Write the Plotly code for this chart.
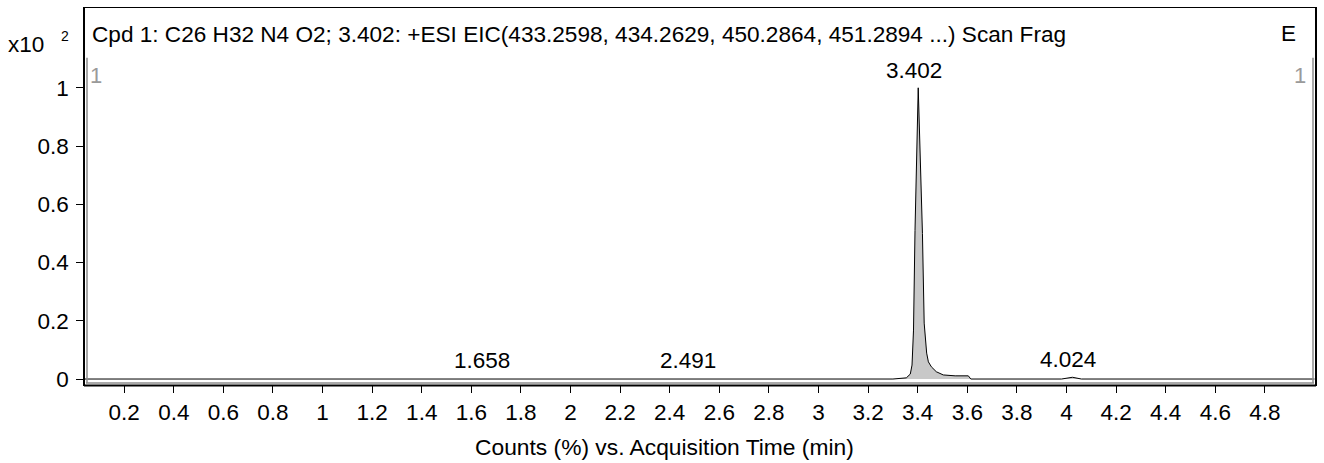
import plotly.graph_objects as go

# Extracted ion chromatogram (EIC), counts in units of 10^2 (%)
acq_time = [0.04, 1.60, 1.658, 1.72, 2.44, 2.491, 2.54, 3.30, 3.354, 3.370, 3.377,
            3.383, 3.389, 3.402, 3.419, 3.426, 3.436, 3.443, 3.455, 3.475, 3.503,
            3.544, 3.551, 3.604, 3.614, 3.98, 4.024, 4.06, 5.00]
counts = [0.0, 0.0, 0.002, 0.0, 0.0, 0.002, 0.0, 0.0, 0.004, 0.017, 0.048,
          0.168, 0.51, 1.0, 0.50, 0.192, 0.089, 0.059, 0.042, 0.025, 0.014,
          0.010, 0.011, 0.011, 0.0, 0.0, 0.006, 0.0, 0.0]

# Labelled peak apexes
peak_rt = [1.658, 2.491, 3.402, 4.024]
peak_height = [0.002, 0.002, 1.0, 0.006]

x_ticks = [0.2, 0.4, 0.6, 0.8, 1, 1.2, 1.4, 1.6, 1.8, 2, 2.2, 2.4, 2.6, 2.8, 3,
           3.2, 3.4, 3.6, 3.8, 4, 4.2, 4.4, 4.6, 4.8]
y_ticks = [0, 0.2, 0.4, 0.6, 0.8, 1]

title_text = ("Cpd 1: C26 H32 N4 O2; 3.402: +ESI EIC(433.2598, 434.2629, "
              "450.2864, 451.2894 ...) Scan Frag")
axis_title = "Counts (%) vs. Acquisition Time (min)"

W, H = 1324, 463
ML, MR, MT, MB = 85, 7, 7, 78
PW, PH = W - ML - MR, H - MT - MB
FONT = "Liberation Sans, Arial, sans-serif"
FS = 22.5


def px_x(px):
    """Horizontal pixel -> paper coordinate."""
    return (px - ML) / PW


def px_y(py):
    """Vertical pixel (from top) -> paper coordinate."""
    return (H - MB - py) / PH


fig = go.Figure()
fig.add_trace(go.Scatter(
    x=acq_time, y=counts, mode="lines",
    line=dict(color="black", width=1),
    fill="tozeroy", fillcolor="#c8c8c8",
    hoverinfo="skip", showlegend=False,
))

annotations = []
for rt, h in zip(peak_rt, peak_height):
    annotations.append(dict(
        x=rt, y=h, xref="x", yref="y", text=f"{rt:.3f}", showarrow=False,
        xanchor="center", yanchor="bottom", xshift=-4, yshift=3,
        font=dict(family=FONT, size=FS, color="black"),
    ))

annotations += [
    dict(x=px_x(90), y=px_y(34), xref="paper", yref="paper", text=title_text,
         showarrow=False, xanchor="left", yanchor="middle",
         font=dict(family=FONT, size=22.6, color="black")),
    dict(x=px_x(1290), y=px_y(33), xref="paper", yref="paper", text="E",
         showarrow=False, xanchor="center", yanchor="middle",
         font=dict(family=FONT, size=FS, color="black")),
    dict(x=px_x(96), y=px_y(75), xref="paper", yref="paper", text="1",
         showarrow=False, xanchor="center", yanchor="middle",
         font=dict(family=FONT, size=22, color="#9a9a9a")),
    dict(x=px_x(1302), y=px_y(75), xref="paper", yref="paper", text="1",
         showarrow=False, xanchor="center", yanchor="middle",
         font=dict(family=FONT, size=22, color="#9a9a9a")),
    dict(x=px_x(25.5), y=px_y(44), xref="paper", yref="paper", text="x10",
         showarrow=False, xanchor="center", yanchor="middle",
         font=dict(family=FONT, size=FS, color="black")),
    dict(x=px_x(64.5), y=px_y(35), xref="paper", yref="paper", text="2",
         showarrow=False, xanchor="center", yanchor="middle",
         font=dict(family=FONT, size=14, color="black")),
    dict(x=px_x(665), y=px_y(447), xref="paper", yref="paper", text=axis_title,
         showarrow=False, xanchor="center", yanchor="middle",
         font=dict(family=FONT, size=22.8, color="black")),
]

# Inner shadow lines of the frame
shapes = [
    dict(type="line", xref="paper", yref="paper",
         x0=px_x(87), x1=px_x(87), y0=px_y(57), y1=px_y(383),
         line=dict(color="#8c8c8c", width=1.5)),
    dict(type="line", xref="paper", yref="paper",
         x0=px_x(1315), x1=px_x(1315), y0=px_y(57), y1=px_y(383),
         line=dict(color="#8c8c8c", width=1.5)),
    dict(type="line", xref="paper", yref="paper",
         x0=px_x(86), x1=px_x(1316), y0=px_y(383), y1=px_y(383),
         line=dict(color="#8c8c8c", width=1.5)),
    dict(type="line", xref="paper", yref="paper",
         x0=px_x(84), x1=px_x(1318), y0=px_y(385.5), y1=px_y(385.5),
         line=dict(color="black", width=2)),
]

fig.update_layout(
    width=W, height=H, autosize=False,
    margin=dict(l=ML, r=MR, t=MT, b=MB, pad=0),
    paper_bgcolor="white", plot_bgcolor="white",
    font=dict(family=FONT, size=FS, color="black"),
    annotations=annotations, shapes=shapes,
    xaxis=dict(
        range=[0.042, 5.002], tickmode="array", tickvals=x_ticks,
        ticktext=[f"{v:g}" for v in x_ticks],
        ticks="outside", ticklen=7, tickwidth=1, tickcolor="black",
        showline=True, mirror=True, linecolor="black", linewidth=1,
        showgrid=False, zeroline=False,
        tickfont=dict(family=FONT, size=FS, color="black"),
    ),
    yaxis=dict(
        range=[-0.0205, 1.274], tickmode="array", tickvals=y_ticks,
        ticktext=[f"{v:g}" for v in y_ticks],
        ticks="outside", ticklen=7, tickwidth=1, tickcolor="black",
        ticklabelstandoff=3,
        showline=True, mirror=True, linecolor="black", linewidth=1.5,
        showgrid=False, zeroline=False,
        tickfont=dict(family=FONT, size=FS, color="black"),
    ),
)

fig.write_html("out.html")
